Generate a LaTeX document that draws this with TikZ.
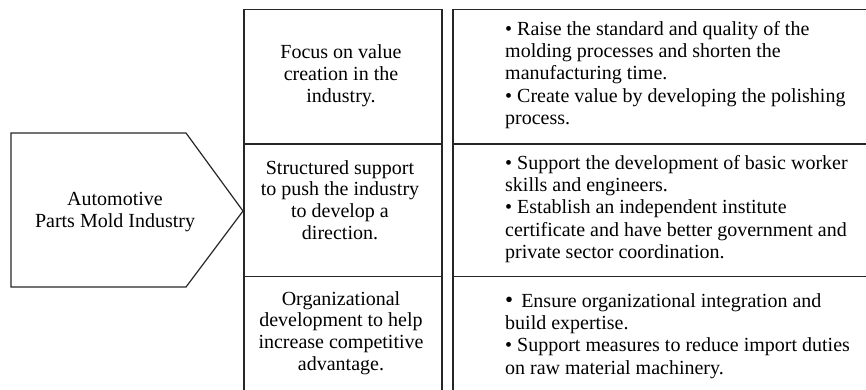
\documentclass[tikz,border=0pt]{standalone}
\usepackage{fontspec}
\setmainfont{Liberation Serif}
\begin{document}
\begin{tikzpicture}[x=1pt,y=-1pt,
  frame/.style={line width=1.2pt, black!85},
  midtext/.style={align=center, inner sep=0pt, font=\fontsize{20}{21.8}\selectfont},
  bultext/.style={align=left, inner sep=0pt, anchor=west, font=\fontsize{20}{22.3}\selectfont}]
\useasboundingbox (0,0) rectangle (866,390);
% pentagon
\draw[frame] (11,133) -- (186,133) -- (243,211) -- (186,287) -- (11,287) -- cycle;
\node[midtext] (root) at (115,212) {Automotive\\Parts Mold Industry};
% middle column
\draw[frame] (244,394) -- (244,9.5) -- (442,9.5) -- (442,394);
\draw[frame] (244,144) -- (442,144);
\draw[frame] (244,276.5) -- (442,276.5);
% right column
\draw[frame] (453,394) -- (453,9.5) -- (870,9.5);
\draw[frame] (453,144) -- (870,144);
\draw[frame] (453,276.5) -- (870,276.5);
% middle texts
\node[midtext] (m1) at (341,76) {Focus on value\\creation in the\\industry.};
\node[midtext] (m2) at (340,200) {Structured support\\to push the industry\\to develop a\\direction.};
\node[midtext] (m3) at (341,333) {Organizational\\development to help\\increase competitive\\advantage.};
% right texts
\node[bultext] (r1) at (505,75) {• Raise the standard and quality of the\\molding processes and shorten the\\manufacturing time.\\• Create value by developing the polishing\\process.};
\node[bultext] (r2) at (505,209) {• Support the development of basic worker\\skills and engineers.\\• Establish an independent institute\\certificate and have better government and\\private sector coordination.};
\node[bultext] (r3) at (505,336) {{\fontsize{23}{22.3}\selectfont •}\hspace{3pt} Ensure organizational integration and\\build expertise.\\• Support measures to reduce import duties\\on raw material machinery.};
\end{tikzpicture}
\end{document}
